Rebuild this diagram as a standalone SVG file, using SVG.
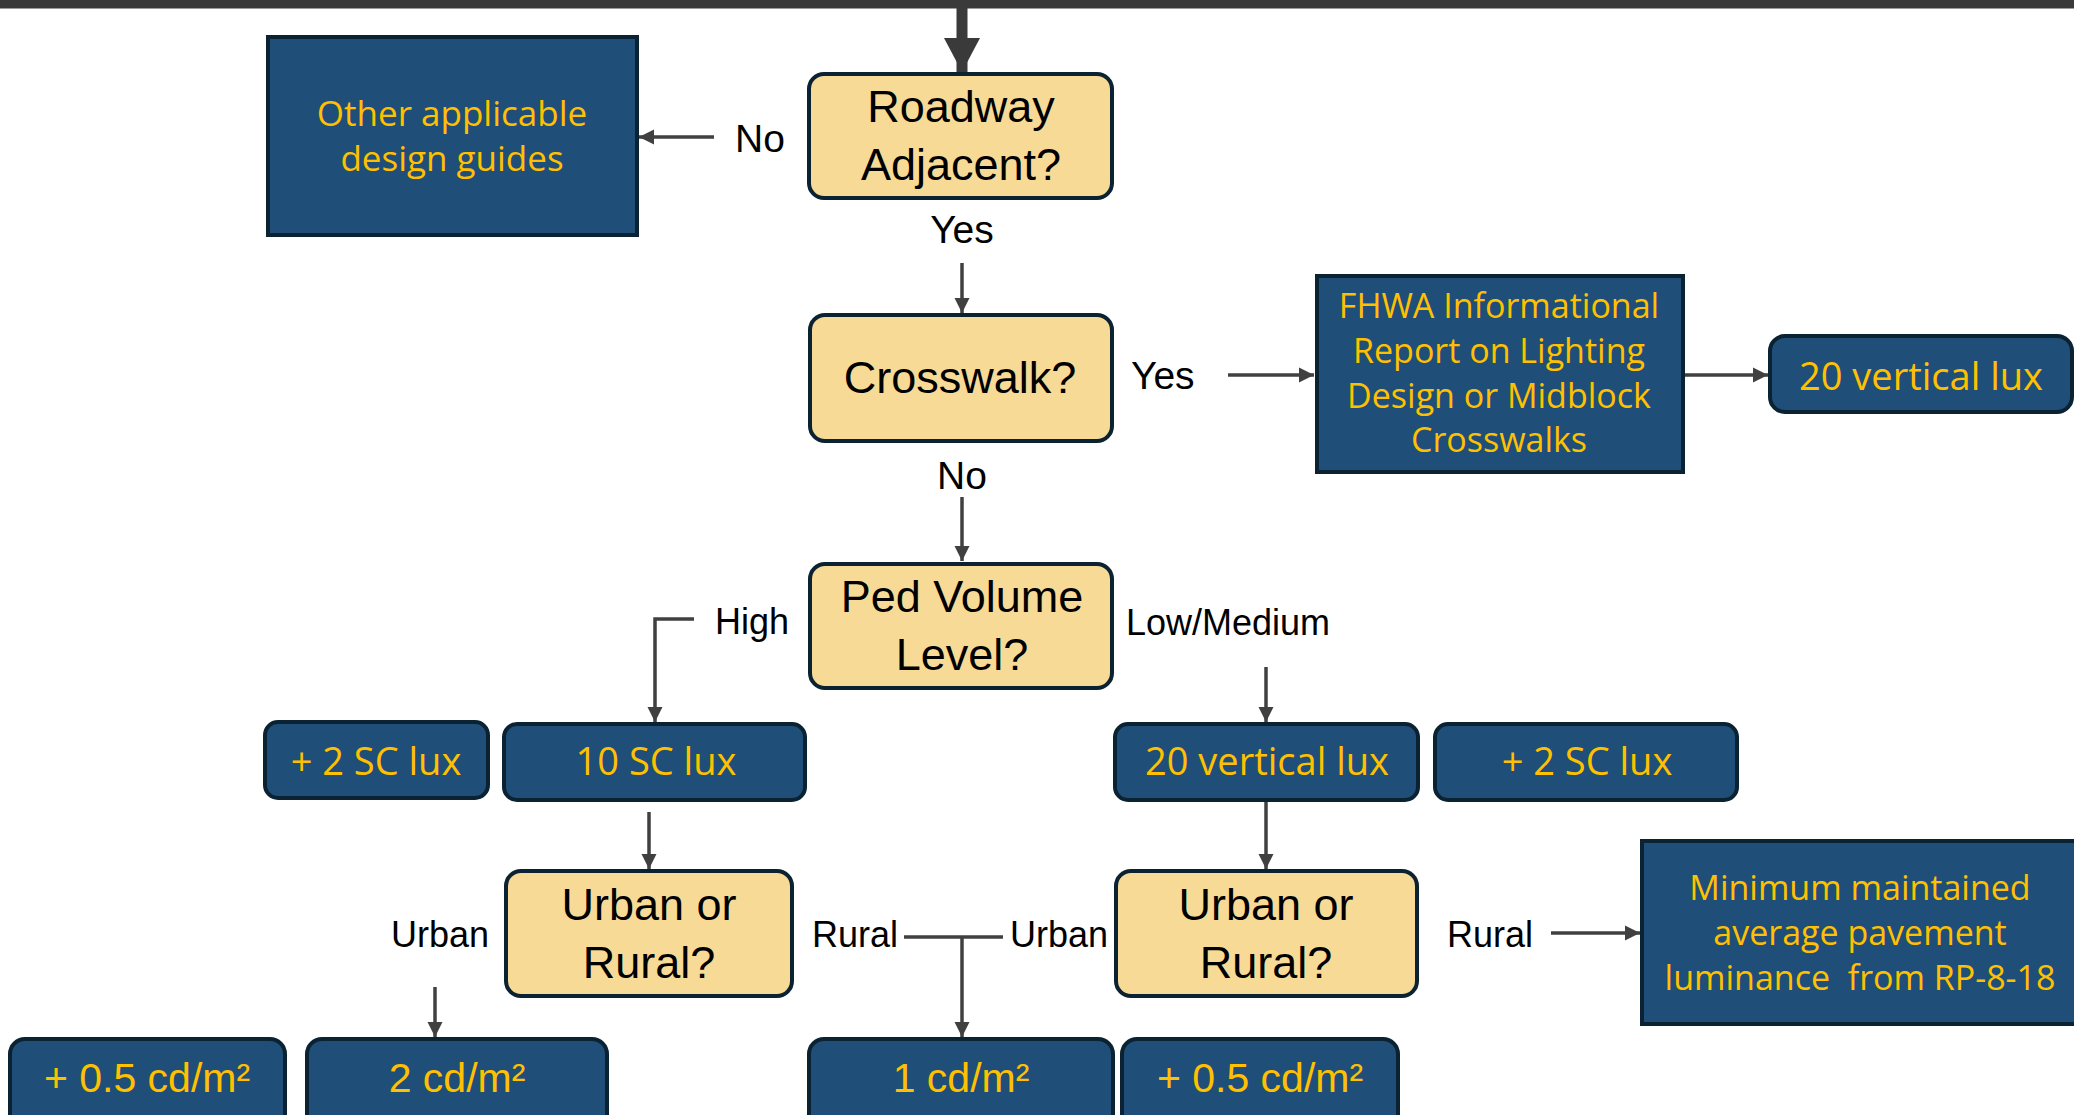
<svg xmlns="http://www.w3.org/2000/svg" width="2074" height="1115" viewBox="0 0 2074 1115">
<defs>
<style>
.q{fill:#f7da96;stroke:#0b2232;stroke-width:4}
.r{fill:#1f4e79;stroke:#0b2232;stroke-width:4}
.c{fill:none;stroke:#404040;stroke-width:3.5}
.qt{font-family:"Liberation Sans",Arial,sans-serif;font-size:45px;fill:#000;text-anchor:middle}
.lb{font-family:"Liberation Sans",Arial,sans-serif;font-size:36px;fill:#000}
.lb2{font-family:"Liberation Sans",Arial,sans-serif;font-size:39px;fill:#000}
.yt{font-family:"Open Sans","Noto Sans",sans-serif;fill:#ffc000;text-anchor:middle}
.ya{font-family:"Liberation Sans",Arial,sans-serif;font-size:41px;fill:#ffc000;text-anchor:middle}
</style>
<marker id="ah" markerUnits="userSpaceOnUse" markerWidth="16" markerHeight="16" refX="15" refY="8" orient="auto" viewBox="0 0 16 16">
<path d="M0,0.5 L15,8 L0,15.5 z" fill="#404040"/>
</marker>
<marker id="ahB" markerUnits="userSpaceOnUse" markerWidth="34" markerHeight="36" refX="34" refY="18" orient="auto" viewBox="0 0 34 36">
<path d="M0,0 L34,18 L0,36 z" fill="#3a3a3a"/>
</marker>
</defs>
<rect x="0" y="0" width="2074" height="8.5" fill="#3a3a3a"/>

<g id="connectors">
<line x1="962" y1="8" x2="962" y2="72" stroke="#3a3a3a" stroke-width="11" marker-end="url(#ahB)"/>
<line class="c" x1="714" y1="137" x2="639" y2="137" stroke-width="4" marker-end="url(#ah)"/>
<line class="c" x1="962" y1="263" x2="962" y2="313" stroke-width="3" marker-end="url(#ah)"/>
<line class="c" x1="1228" y1="375" x2="1314" y2="375" stroke-width="4" marker-end="url(#ah)"/>
<line class="c" x1="1685" y1="375" x2="1768" y2="375" stroke-width="3.5" marker-end="url(#ah)"/>
<line class="c" x1="962" y1="497" x2="962" y2="561" stroke-width="3" marker-end="url(#ah)"/>
<polyline class="c" points="694,619 655,619 655,722" marker-end="url(#ah)"/>
<line class="c" x1="1266" y1="667" x2="1266" y2="722" marker-end="url(#ah)"/>
<line class="c" x1="649" y1="812" x2="649" y2="869" marker-end="url(#ah)"/>
<line class="c" x1="1266" y1="802" x2="1266" y2="869" marker-end="url(#ah)"/>
<line class="c" x1="435" y1="987" x2="435" y2="1037" marker-end="url(#ah)"/>
<line class="c" x1="904" y1="937" x2="1003" y2="937"/>
<line class="c" x1="962" y1="937" x2="962" y2="1037" marker-end="url(#ah)"/>
<line class="c" x1="1551" y1="933" x2="1640" y2="933" marker-end="url(#ah)"/>
</g>

<g id="n-other">
<rect class="r" x="268" y="37" width="369" height="198"/>
<text class="yt" font-size="35" x="452" y="126">Other applicable</text>
<text class="yt" font-size="35" x="452" y="171">design guides</text>
</g>
<text class="lb2" x="735" y="152" font-size="40">No</text>

<g id="n-roadway">
<rect class="q" x="809" y="74" width="303" height="124" rx="15"/>
<text class="qt" x="961" y="122">Roadway</text>
<text class="qt" x="961" y="180">Adjacent?</text>
</g>
<text class="lb2" x="962" y="243" text-anchor="middle">Yes</text>

<g id="n-crosswalk">
<rect class="q" x="810" y="315" width="302" height="126" rx="15"/>
<text class="qt" x="960" y="393">Crosswalk?</text>
</g>
<text class="lb2" x="1131" y="389">Yes</text>
<text class="lb2" x="962" y="489" text-anchor="middle">No</text>

<g id="n-fhwa">
<rect class="r" x="1317" y="276" width="366" height="196"/>
<text class="yt" font-size="34" x="1499" y="318">FHWA Informational</text>
<text class="yt" font-size="34" x="1499" y="363">Report on Lighting</text>
<text class="yt" font-size="34" x="1499" y="408">Design or Midblock</text>
<text class="yt" font-size="34" x="1499" y="452">Crosswalks</text>
</g>

<g id="n-vlux-top">
<rect class="r" x="1770" y="336" width="302" height="76" rx="15"/>
<text class="yt" font-size="38" x="1921" y="390">20 vertical lux</text>
</g>

<g id="n-ped">
<rect class="q" x="810" y="564" width="302" height="124" rx="15"/>
<text class="qt" x="962" y="612">Ped Volume</text>
<text class="qt" x="962" y="670">Level?</text>
</g>
<text class="lb" x="715" y="634">High</text>
<text class="lb" x="1126" y="635">Low/Medium</text>

<g id="n-sc2-left">
<rect class="r" x="265" y="722" width="223" height="76" rx="13"/>
<text class="yt" font-size="38" x="376" y="775">+ 2 SC lux</text>
</g>
<g id="n-sc10">
<rect class="r" x="504" y="724" width="301" height="76" rx="13"/>
<text class="yt" font-size="38" x="656" y="775">10 SC lux</text>
</g>
<g id="n-vlux-mid">
<rect class="r" x="1115" y="724" width="303" height="76" rx="13"/>
<text class="yt" font-size="38" x="1267" y="775">20 vertical lux</text>
</g>
<g id="n-sc2-right">
<rect class="r" x="1435" y="724" width="302" height="76" rx="13"/>
<text class="yt" font-size="38" x="1587" y="775">+ 2 SC lux</text>
</g>

<g id="n-ur-left">
<rect class="q" x="506" y="871" width="286" height="125" rx="15"/>
<text class="qt" x="649" y="920">Urban or</text>
<text class="qt" x="649" y="978">Rural?</text>
</g>
<text class="lb" x="391" y="947">Urban</text>
<text class="lb" x="812" y="947">Rural</text>
<text class="lb" x="1010" y="947">Urban</text>

<g id="n-ur-right">
<rect class="q" x="1116" y="871" width="301" height="125" rx="15"/>
<text class="qt" x="1266" y="920">Urban or</text>
<text class="qt" x="1266" y="978">Rural?</text>
</g>
<text class="lb" x="1447" y="947">Rural</text>

<g id="n-minimum">
<rect class="r" x="1642" y="841" width="440" height="183"/>
<text class="yt" font-size="34" x="1860" y="900">Minimum maintained</text>
<text class="yt" font-size="34" x="1860" y="945">average pavement</text>
<text class="yt" font-size="34" x="1860" y="990" xml:space="preserve">luminance  from RP-8-18</text>
</g>

<g id="n-cd05-left">
<rect class="r" x="10" y="1039" width="275" height="100" rx="15"/>
<text class="ya" x="147" y="1092">+ 0.5 cd/m²</text>
</g>
<g id="n-cd2">
<rect class="r" x="307" y="1039" width="300" height="100" rx="15"/>
<text class="ya" x="457" y="1092">2 cd/m²</text>
</g>
<g id="n-cd1">
<rect class="r" x="809" y="1039" width="304" height="100" rx="15"/>
<text class="ya" x="961" y="1092">1 cd/m²</text>
</g>
<g id="n-cd05-right">
<rect class="r" x="1122" y="1039" width="276" height="100" rx="15"/>
<text class="ya" x="1260" y="1092">+ 0.5 cd/m²</text>
</g>
</svg>
